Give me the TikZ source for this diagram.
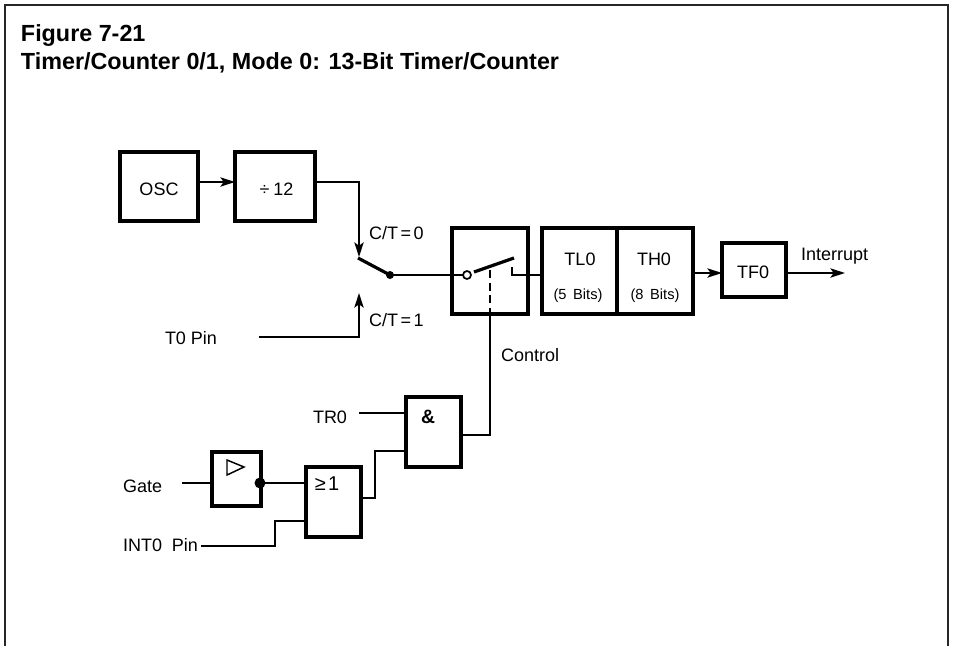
\documentclass[tikz,border=0pt]{standalone}
\usepackage{fontspec}
\setmainfont{Liberation Sans}
\usetikzlibrary{arrows.meta}
\newcommand{\blockbox}[5]{% name x1 y1 x2 y2
  \node[blk, minimum width={(#4-#2)*0.75pt}, minimum height={(#5-#3)*0.75pt}] (#1) at ({(#2+#4)/2},{(#3+#5)/2}) {};}
\tikzset{
  blk/.style={draw=black, line width=2.4pt, inner sep=0pt, outer sep=0pt, fill=none},
  wire/.style={draw=black, line width=1.1pt},
  arrowwire/.style={wire, -{Stealth[length=11pt,width=7pt,inset=2.5pt]}},
  frameline/.style={draw=black!85, line width=1.5pt},
  lever/.style={draw=black, line width=2.4pt},
  txt/.style={anchor=base west, inner sep=0pt, outer sep=0pt, font=\fontsize{13.5}{16}\selectfont},
  ctxt/.style={anchor=base, inner sep=0pt, outer sep=0pt, font=\fontsize{13.5}{16}\selectfont},
  small/.style={anchor=base, inner sep=0pt, outer sep=0pt, font=\fontsize{11}{13}\selectfont},
  ttl/.style={anchor=base west, inner sep=0pt, outer sep=0pt, font=\fontsize{17.5}{21}\selectfont\bfseries}
}
\begin{document}
\begin{tikzpicture}[x=0.75pt,y=-0.75pt]
\useasboundingbox (0,0) rectangle (953,646);
\coordinate (fa) at (5,646); \coordinate (fb) at (5,5); \coordinate (fc) at (948,5); \coordinate (fd) at (948,646);
\draw[frameline] (fa) -- (fb) -- (fc) -- (fd);
\node[ttl] (t1) at (21,41) {Figure 7-21};
\node[ttl] (t2) at (21,69) {Timer/Counter 0/1, Mode 0: 13-Bit Timer/Counter};
% blocks
\blockbox{osc}{120}{152}{198}{221}
\blockbox{div}{235}{152}{315}{221}
\blockbox{sw}{452}{228}{528}{314}
\blockbox{tl}{542}{228}{617}{314}
\blockbox{th}{617}{228}{693}{314}
\blockbox{tf}{722}{243}{786}{297}
\blockbox{andg}{406}{397}{461}{467}
\blockbox{orgate}{306}{467}{361}{537}
\blockbox{buf}{212}{452}{261}{506}
% block texts
\node[ctxt] (oscT) at (159,195) {OSC};
\node[ctxt] (divT) at (276.5,195) {÷\hspace{0.22em}12};
\node[ctxt] (tlT) at (580,265) {TL0};
\node[small] (tlS) at (578,299) {(5\hspace{0.45em}Bits)};
\node[ctxt] (thT) at (654,265) {TH0};
\node[small] (thS) at (655,299) {(8\hspace{0.45em}Bits)};
\node[ctxt] (tfT) at (753,278) {TF0};
\node[ctxt,font=\fontsize{14.5}{16}\selectfont\bfseries] (andT) at (428,423) {\&};
\node[ctxt,font=\fontsize{15}{16}\selectfont] (orT) at (327,490) {≥\hspace{0.12em}1};
% labels
\node[txt] (c0) at (369,239) {C/T\hspace{0.14em}=\hspace{0.14em}0};
\node[txt] (c1) at (369,326) {C/T\hspace{0.14em}=\hspace{0.14em}1};
\node[txt] (ctl) at (501,361) {Control};
\node[txt] (irq) at (801,260) {Interrupt};
\node[txt] (t0) at (165,344) {T0 Pin};
\node[txt] (tr) at (313,423) {TR0};
\node[txt] (gate) at (123,492) {Gate};
\node[txt] (int) at (123,551) {INT0\hspace{0.55em}Pin};
% junction coordinates
\coordinate (sel) at (358,258);
\coordinate (piv) at (390,275);
\coordinate (sel1) at (359,293);
\coordinate (t0s) at (259,337);
\coordinate (t0c) at (359,337);
\coordinate (d1) at (359,182);
\coordinate (d0) at (315,182);
\coordinate (oscO) at (198,182);
\coordinate (divI) at (235,182);
\coordinate (sel0) at (359,257);
\coordinate (swc) at (467,275);
\coordinate (blS) at (474,272);
\coordinate (blE) at (514,258);
\coordinate (cnA) at (512,267);
\coordinate (cnB) at (512,275);
\coordinate (tlIn) at (542,275);
\coordinate (dashT) at (490,270);
\coordinate (dashB) at (490,314);
\coordinate (ctlC) at (490,435);
\coordinate (andO) at (461,435);
\coordinate (tr0s) at (359,413);
\coordinate (tr0e) at (406,413);
\coordinate (gs) at (182,483);
\coordinate (ge) at (212,483);
\coordinate (bd) at (260,483);
\coordinate (oi) at (306,483);
\coordinate (oi2) at (306,521);
\coordinate (i2a) at (275,521);
\coordinate (i2b) at (275,546);
\coordinate (i2c) at (201,546);
\coordinate (oo) at (361,498);
\coordinate (oo1) at (375,498);
\coordinate (oo2) at (375,451);
\coordinate (ai) at (406,451);
\coordinate (thO) at (693,273);
\coordinate (tfI) at (722,273);
\coordinate (tfO) at (786,273);
\coordinate (irqE) at (845,273);
\coordinate (triA) at (227,460);
\coordinate (triB) at (227,475);
\coordinate (triC) at (244,467);
% connectors
\draw[arrowwire] (oscO) -- (divI);
\draw[arrowwire] (d0) -- (d1) -- (sel0);
\draw[arrowwire] (t0s) -- (t0c) -- (sel1);
\draw[lever] (sel) -- (piv);
\fill (piv) circle[radius=4];
\draw[wire] (piv) -- (swc);
\draw[wire,line width=1.3pt,fill=white] (swc) circle[radius=4];
\draw[lever] (blS) -- (blE);
\draw[wire,line width=1.4pt] (cnA) -- (cnB) -- (tlIn);
\draw[wire,line width=1.5pt,dash pattern=on 6pt off 3.5pt] (dashT) -- (dashB);
\draw[wire] (dashB) -- (ctlC) -- (andO);
\draw[arrowwire] (thO) -- (tfI);
\draw[arrowwire] (tfO) -- (irqE);
\draw[wire] (tr0s) -- (tr0e);
\draw[wire] (gs) -- (ge);
\draw[wire] (bd) -- (oi);
\fill (bd) circle[radius=5.5];
\draw[wire] (oi2) -- (i2a) -- (i2b) -- (i2c);
\draw[wire] (oo) -- (oo1) -- (oo2) -- (ai);
\draw[draw=black,line width=1.1pt] (triA) -- (triB) -- (triC) -- cycle;
\end{tikzpicture}
\end{document}
